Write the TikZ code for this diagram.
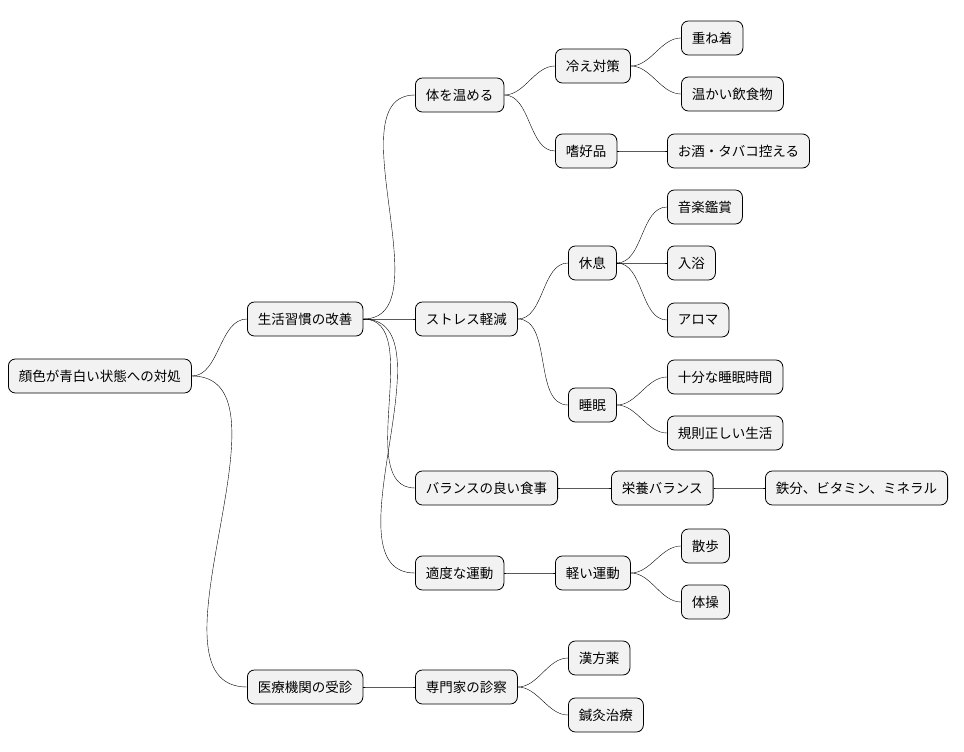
\documentclass[tikz,border=0pt]{standalone}
\usepackage{fontspec}
\setmainfont{Noto Sans CJK JP}
\begin{document}
\begin{tikzpicture}[x=1pt,y=-1pt,
  every node/.style={font=\fontsize{13.5}{15}\selectfont},
  topic/.style={draw,thick,rounded corners=7pt,fill=black!5,anchor=west,minimum height=34,inner xsep=10.5,inner ysep=0},
  link/.style={thin,out=0,in=180,looseness=0.9}]
  \useasboundingbox (0,0) rectangle (964,752);

  % Position the nodes at their left edge
  \node[topic] (root) at (8,376) {顔色が青白い状態への対処};
  \node[topic] (life) at (247,319) {生活習慣の改善};
  \node[topic] (med) at (247,687) {医療機関の受診};
  \node[topic] (warm) at (415,95) {体を温める};
  \node[topic] (stress) at (415,319) {ストレス軽減};
  \node[topic] (diet) at (415,488) {バランスの良い食事};
  \node[topic] (exer) at (415,573) {適度な運動};
  \node[topic] (expert) at (415,687) {専門家の診察};
  \node[topic] (cold) at (555,66) {冷え対策};
  \node[topic] (habit) at (555,151) {嗜好品};
  \node[topic] (rest) at (568,263) {休息};
  \node[topic] (sleep) at (568,405) {睡眠};
  \node[topic] (nutr) at (611,488) {栄養バランス};
  \node[topic] (light) at (555,573) {軽い運動};
  \node[topic] (herb) at (568,658) {漢方薬};
  \node[topic] (acu) at (568,715) {鍼灸治療};
  \node[topic] (layer) at (681,38) {重ね着};
  \node[topic] (food) at (681,94) {温かい飲食物};
  \node[topic] (drink) at (667,151) {お酒・タバコ控える};
  \node[topic] (music) at (667,207) {音楽鑑賞};
  \node[topic] (bath) at (667,263) {入浴};
  \node[topic] (aroma) at (667,320) {アロマ};
  \node[topic] (enough) at (667,377) {十分な睡眠時間};
  \node[topic] (regular) at (667,433) {規則正しい生活};
  \node[topic] (iron) at (765,488) {鉄分、ビタミン、ミネラル};
  \node[topic] (walk) at (681,546) {散歩};
  \node[topic] (gym) at (681,602) {体操};

  % Draw the branches from parent to child
  \foreach \p/\c in {root/life,root/med,life/warm,life/stress,life/diet,life/exer,
    med/expert,warm/cold,warm/habit,stress/rest,stress/sleep,diet/nutr,exer/light,
    expert/herb,expert/acu,cold/layer,cold/food,habit/drink,rest/music,rest/bath,
    rest/aroma,sleep/enough,sleep/regular,nutr/iron,light/walk,light/gym}
    \draw[link] (\p.east) to (\c.west);
\end{tikzpicture}
\end{document}
